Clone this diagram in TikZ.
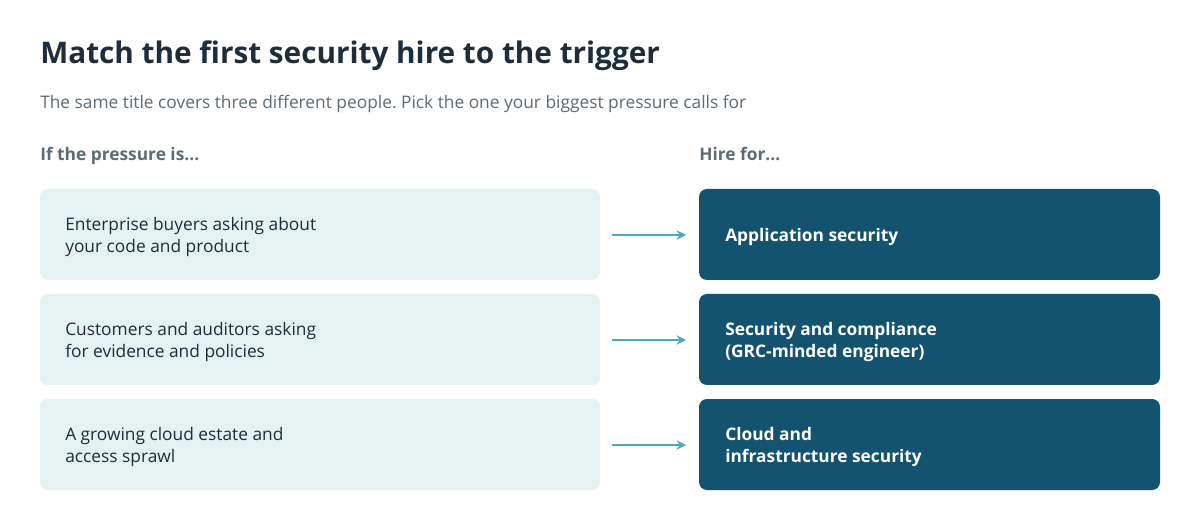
\documentclass[tikz,border=0pt]{standalone}
\usepackage{fontspec}
\setmainfont{Open Sans}
\usepackage{xcolor}
\usetikzlibrary{arrows.meta}
\definecolor{ink}{HTML}{1F2D3A}
\definecolor{muted}{HTML}{5E6B75}
\definecolor{paleteal}{HTML}{E6F2F2}
\definecolor{deepteal}{HTML}{13536F}
\definecolor{arrowteal}{HTML}{4AABB0}
\frenchspacing
\begin{document}
\begin{tikzpicture}[x=0.75pt,y=-0.75pt]
\tikzstyle{pressure}=[fill=paleteal, rounded corners=6pt]
\tikzstyle{hire}=[fill=deepteal, rounded corners=6pt]
\tikzstyle{pressuretext}=[anchor=west, align=left, text=ink, font=\fontsize{13}{16.5}\selectfont, inner sep=0pt]
\tikzstyle{hiretext}=[anchor=west, align=left, text=white, font=\bfseries\fontsize{13}{16.5}\selectfont, inner sep=0pt]
\tikzstyle{link}=[draw=arrowteal, line width=1.8pt, -{Stealth[length=7pt,width=7pt]}]

\useasboundingbox[fill=white] (0,0) rectangle (1200,520);

% Title and column heads
\node[anchor=base west, inner sep=0pt, text=ink, font=\bfseries\fontsize{22.3}{26}\selectfont] (title) at (40,64) {Match the first security hire to the trigger};
\node[anchor=base west, inner sep=0pt, text=muted, font=\fontsize{13}{15}\selectfont] (subtitle) at (40,109) {The same title covers three different people. Pick the one your biggest pressure calls for};
\node[anchor=base west, inner sep=0pt, text=muted, font=\bfseries\fontsize{13}{15}\selectfont] (lefthead) at (40,161) {If the pressure is...};
\node[anchor=base west, inner sep=0pt, text=muted, font=\bfseries\fontsize{13}{15}\selectfont] (righthead) at (699,161) {Hire for...};

% Rows
\path[pressure] (40,189) rectangle (600,280);
\path[pressure] (40,294) rectangle (600,385);
\path[pressure] (40,399) rectangle (600,490);
\path[hire] (699,189) rectangle (1160,280);
\path[hire] (699,294) rectangle (1160,385);
\path[hire] (699,399) rectangle (1160,490);

\node[pressuretext] (trigger-app) at (65,236.5) {Enterprise buyers asking about\\your code and product};
\node[pressuretext] (trigger-grc) at (65,341.5) {Customers and auditors asking\\for evidence and policies};
\node[pressuretext] (trigger-cloud) at (65,446.5) {A growing cloud estate and\\access sprawl};

\node[hiretext] (hire-app) at (725,236.5) {Application security};
\node[hiretext] (hire-grc) at (725,341.5) {Security and compliance\\(GRC-minded engineer)};
\node[hiretext] (hire-cloud) at (725,446.5) {Cloud and\\infrastructure security};

\coordinate (from-app) at (612,235);
\coordinate (to-app) at (686,235);
\coordinate (from-grc) at (612,340);
\coordinate (to-grc) at (686,340);
\coordinate (from-cloud) at (612,445);
\coordinate (to-cloud) at (686,445);
\path[link] (from-app) -- (to-app);
\path[link] (from-grc) -- (to-grc);
\path[link] (from-cloud) -- (to-cloud);
\end{tikzpicture}
\end{document}
